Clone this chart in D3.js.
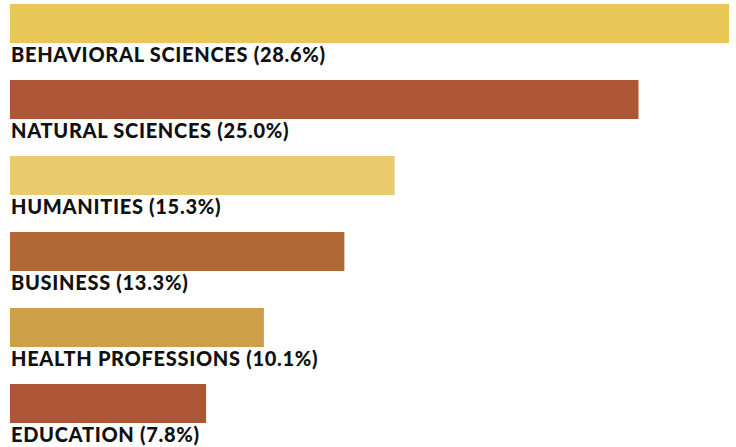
<!DOCTYPE html>
<html>
<head>
<meta charset="utf-8">
<script src="https://cdn.jsdelivr.net/npm/d3@7"></script>
<style>
  html, body { margin: 0; padding: 0; background: #fff; }
  svg { display: block; }
</style>
</head>
<body>
<svg id="chart" width="736" height="447"></svg>
<script>
const categories = ["BEHAVIORAL SCIENCES", "NATURAL SCIENCES", "HUMANITIES", "BUSINESS", "HEALTH PROFESSIONS", "EDUCATION"];
const values = [28.6, 25.0, 15.3, 13.3, 10.1, 7.8];
const colors = ["#E8C757", "#AE5535", "#E9CB6E", "#B26736", "#CD9F46", "#AE5535"];

const data = categories.map((c, i) => ({ cat: c, value: values[i], color: colors[i] }));

const svg = d3.select("#chart");
const x = d3.scaleLinear().domain([0, 28.6]).range([10, 729]);
const y = d3.scaleBand().domain(categories).range([4, 423]).paddingInner(0.487).paddingOuter(0);

const g = svg.append("g");
g.selectAll("rect").data(data).join("rect")
  .attr("x", x(0))
  .attr("y", d => y(d.cat))
  .attr("width", d => x(d.value) - x(0))
  .attr("height", y.bandwidth())
  .attr("fill", d => d.color);

g.selectAll("text").data(data).join("text")
  .attr("x", x(0) + 1)
  .attr("y", d => y(d.cat) + 58)
  .attr("font-family", "Lato, 'DejaVu Sans', sans-serif")
  .attr("font-weight", 900)
  .attr("font-size", 20)
  .attr("letter-spacing", 0.7)
  .attr("fill", "#111")
  .text(d => `${d.cat} (${d.value.toFixed(1)}%)`);
</script>
</body>
</html>
